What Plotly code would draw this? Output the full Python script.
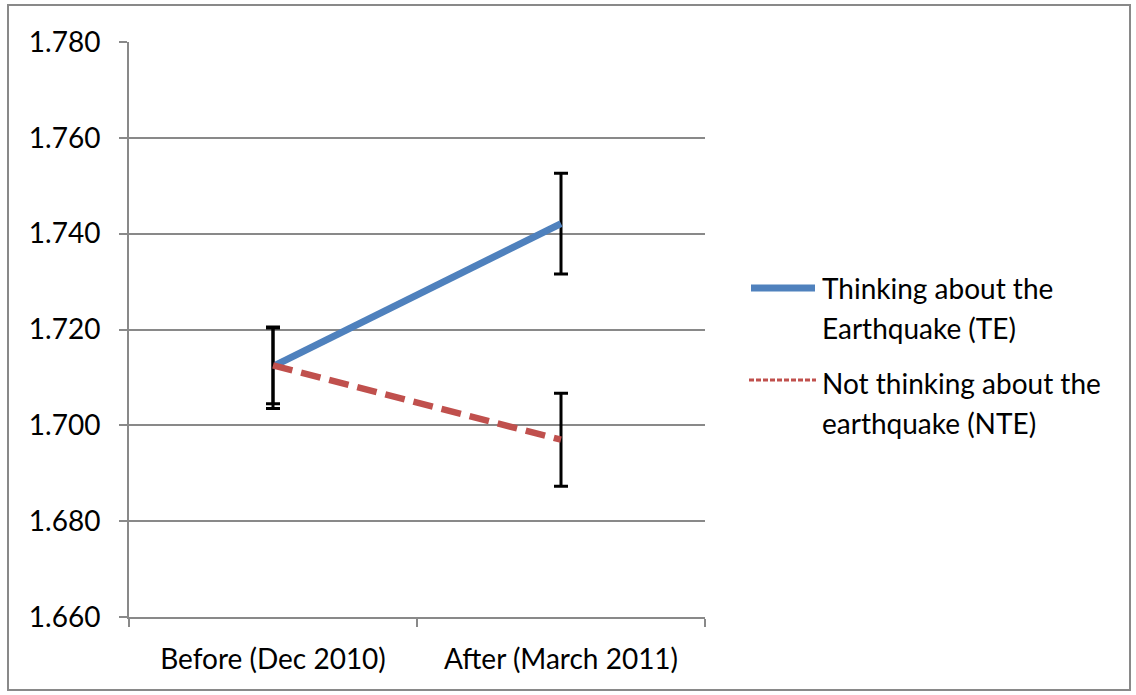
import plotly.graph_objects as go

# Survey waves and group means with error bars
periods = ["Before (Dec 2010)", "After (March 2011)"]
te_mean = [1.7123, 1.7421]
te_err_plus = [0.0080, 0.0105]
te_err_minus = [0.0078, 0.0105]
nte_mean = [1.7125, 1.6970]
nte_err_plus = [0.0080, 0.0097]
nte_err_minus = [0.0090, 0.0097]

legend_lines = [
    ("Thinking about the", "Earthquake (TE)"),
    ("Not thinking about the", "earthquake (NTE)"),
]

BLUE = "#4F81BD"
RED = "#C0504D"
GRID = "#898989"
FONT = "Lato"
FSIZE = 28

W, H = 1136, 695
L, R, T, B = 129, 705, 42, 617  # plot-area edges in pixels


def px_x(x):
    return (x - L) / (R - L)


def px_y(y):
    return 1 - (y - T) / (B - T)


fig = go.Figure()

fig.add_trace(go.Scatter(
    x=periods, y=te_mean, mode="lines",
    line=dict(color=BLUE, width=7),
    error_y=dict(type="data", symmetric=False, array=te_err_plus,
                 arrayminus=te_err_minus, color="black", thickness=3, width=7),
    showlegend=False,
))
fig.add_trace(go.Scatter(
    x=periods, y=nte_mean, mode="lines",
    line=dict(color=RED, width=6.5, dash="20px,9px"),
    error_y=dict(type="data", symmetric=False, array=nte_err_plus,
                 arrayminus=nte_err_minus, color="black", thickness=3, width=7),
    showlegend=False,
))

shapes = [
    # outer chart border
    dict(type="rect", xref="paper", yref="paper",
         x0=px_x(8), x1=px_x(1130), y0=px_y(690), y1=px_y(5),
         line=dict(color=GRID, width=2), layer="below"),
    # legend samples
    dict(type="line", xref="paper", yref="paper",
         x0=px_x(751), x1=px_x(815), y0=px_y(288), y1=px_y(288),
         line=dict(color=BLUE, width=7)),
    dict(type="line", xref="paper", yref="paper",
         x0=px_x(749), x1=px_x(816), y0=px_y(380), y1=px_y(380),
         line=dict(color=RED, width=3, dash="5px,2px")),
]

annotations = []
ys = [(288, 328), (383, 423)]
for (l1, l2), (y1, y2) in zip(legend_lines, ys):
    for txt, yy in ((l1, y1), (l2, y2)):
        annotations.append(dict(
            text=txt, xref="paper", yref="paper", x=px_x(820), y=px_y(yy),
            xanchor="left", yanchor="middle", showarrow=False,
            font=dict(family=FONT, size=FSIZE, color="black"),
        ))

fig.update_layout(
    width=W, height=H,
    margin=dict(l=L, r=W - R, t=T, b=H - B),
    paper_bgcolor="white", plot_bgcolor="white",
    font=dict(family=FONT, size=FSIZE, color="black"),
    shapes=shapes, annotations=annotations,
    xaxis=dict(
        type="category", range=[-0.5, 1.5],
        showgrid=False, showline=True, linecolor=GRID, linewidth=2,
        ticks="outside", tickson="boundaries", ticklen=8, tickwidth=2,
        tickcolor=GRID, ticklabelstandoff=16,
    ),
    yaxis=dict(
        range=[1.660, 1.780], tickvals=[1.66, 1.68, 1.70, 1.72, 1.74, 1.76, 1.78],
        tickformat=".3f", showgrid=True, gridcolor=GRID, gridwidth=2,
        showline=True, linecolor=GRID, linewidth=2, zeroline=False,
        ticks="outside", ticklen=8, tickwidth=2, tickcolor=GRID,
        ticklabelstandoff=13,
    ),
)

fig.write_html("out.html")
